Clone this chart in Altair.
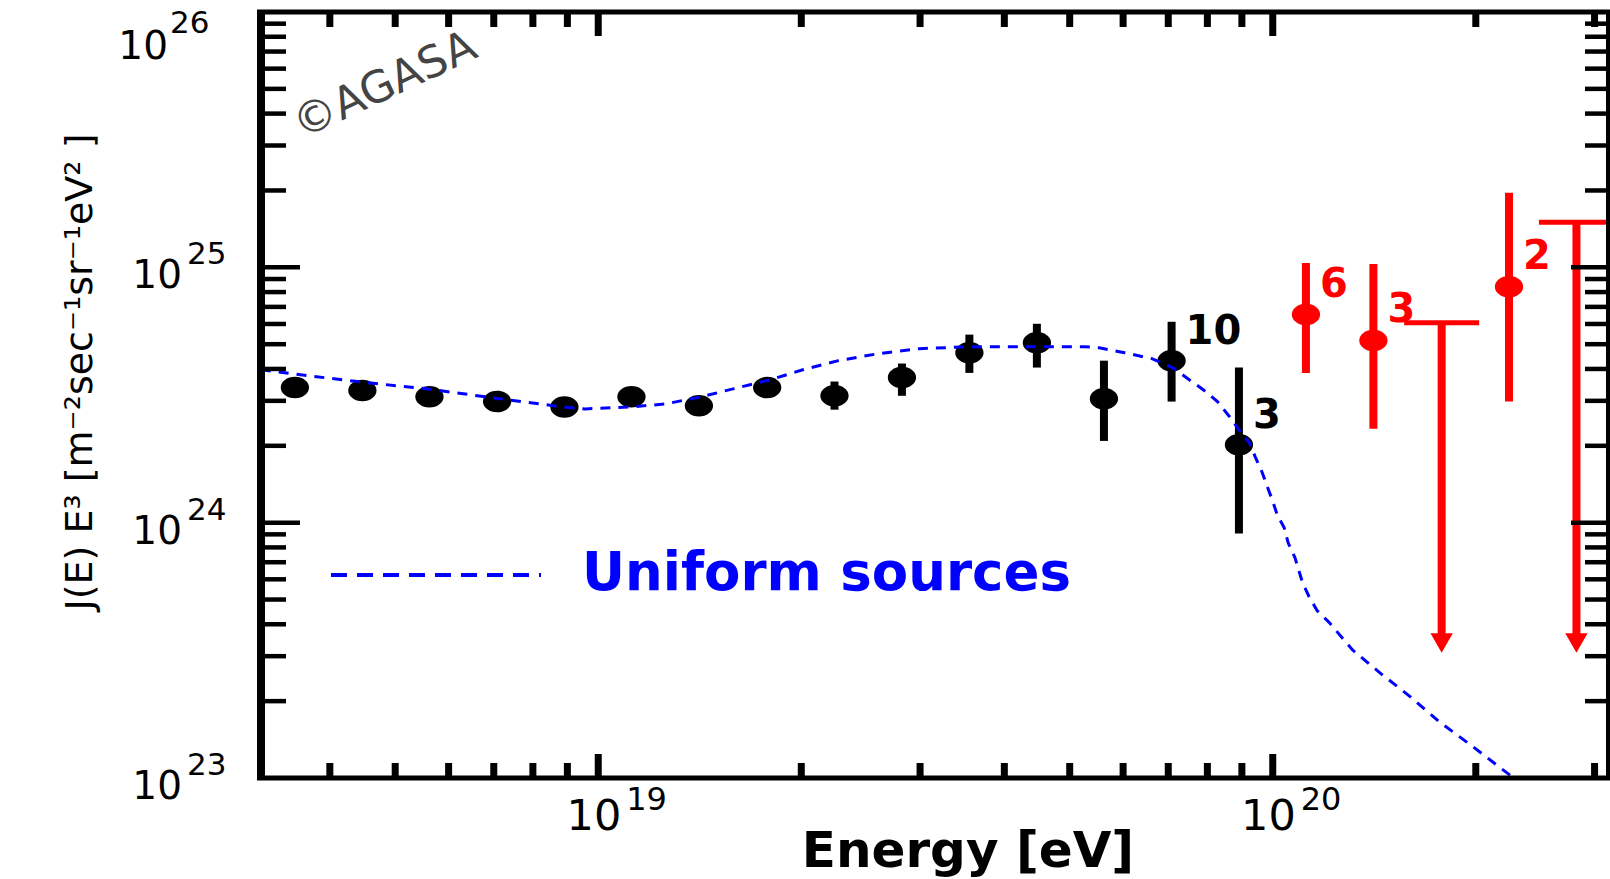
import altair as alt
import pandas as pd

# ---------------- data ----------------
black_E = [3.55e18, 4.47e18, 5.62e18, 7.08e18, 8.91e18, 1.12e19, 1.41e19, 1.78e19,
           2.24e19, 2.82e19, 3.55e19, 4.47e19, 5.62e19, 7.08e19, 8.91e19]
black_J = [3.38e24, 3.29e24, 3.11e24, 2.98e24, 2.84e24, 3.11e24, 2.87e24, 3.38e24,
           3.14e24, 3.70e24, 4.63e24, 5.07e24, 3.06e24, 4.31e24, 2.02e24]
black_lo = [3.28e24, 3.19e24, 3.01e24, 2.88e24, 2.74e24, 2.99e24, 2.74e24, 3.15e24,
            2.77e24, 3.14e24, 3.86e24, 4.05e24, 2.09e24, 2.98e24, 9.06e23]
black_hi = [3.48e24, 3.39e24, 3.21e24, 3.08e24, 2.94e24, 3.23e24, 3.00e24, 3.62e24,
            3.57e24, 4.20e24, 5.45e24, 6.01e24, 4.31e24, 6.12e24, 4.05e24]

red_E = [1.12e20, 1.41e20, 2.24e20]
red_J = [6.53e24, 5.17e24, 8.39e24]
red_lo = [3.86e24, 2.33e24, 2.98e24]
red_hi = [1.04e25, 1.03e25, 1.96e25]

limit_E = [1.78e20, 2.82e20]
limit_J = [6.07e24, 1.50e25]
limit_arrow_J = [3.38e23, 3.38e23]

count_black_E = [7.08e19, 8.91e19]
count_black_J = [4.31e24, 2.02e24]
count_black_txt = ["10", "3"]
count_red_E = [1.12e20, 1.41e20, 2.24e20]
count_red_J = [6.53e24, 5.17e24, 8.39e24]
count_red_txt = ["6", "3", "2"]

curve_E = [3.16e18, 3.82e18, 4.56e18, 5.53e18, 7.00e18, 8.85e18, 9.57e18, 1.12e19,
           1.26e19, 1.42e19, 1.59e19, 1.80e19, 2.01e19, 2.27e19, 2.60e19, 2.99e19,
           3.57e19, 4.50e19, 5.26e19, 5.53e19, 6.03e19, 6.62e19, 7.10e19, 7.52e19,
           7.96e19, 8.28e19, 8.63e19, 8.91e19, 9.23e19, 9.42e19, 9.64e19, 9.82e19,
           9.98e19, 1.016e20, 1.040e20, 1.054e20, 1.079e20, 1.107e20, 1.132e20,
           1.164e20, 1.213e20, 1.312e20, 1.442e20, 1.600e20, 1.766e20, 1.963e20,
           2.265e20]
curve_J = [3.97e24, 3.73e24, 3.53e24, 3.35e24, 3.08e24, 2.84e24, 2.79e24, 2.84e24,
           2.92e24, 3.11e24, 3.35e24, 3.63e24, 3.97e24, 4.31e24, 4.59e24, 4.80e24,
           4.89e24, 4.89e24, 4.89e24, 4.84e24, 4.63e24, 4.39e24, 4.05e24, 3.63e24,
           3.26e24, 2.98e24, 2.60e24, 2.31e24, 2.06e24, 1.81e24, 1.58e24, 1.38e24,
           1.23e24, 1.07e24, 9.55e23, 8.34e23, 7.28e23, 5.82e23, 5.13e23, 4.52e23,
           4.06e23, 3.18e23, 2.58e23, 2.08e23, 1.66e23, 1.35e23, 1.01e23]

x_major = [1e19, 1e20]
x_minor = [4e18, 5e18, 6e18, 7e18, 8e18, 9e18,
           2e19, 3e19, 4e19, 5e19, 6e19, 7e19, 8e19, 9e19,
           2e20, 3e20]
y_major = [1e24, 1e25]
y_minor = [m * d for d in (1e23, 1e24, 1e25) for m in range(2, 10)]

x_label_E = [1e19, 1e20]
x_label_base = ["10", "10"]
x_label_exp = ["19", "20"]
y_label_J = [1e23, 1e24, 1e25]
y_label_base = ["10", "10", "10"]
y_label_exp = ["23", "24", "25"]
y_top_label_J = [1e26]
y_top_label_exp = ["26"]

x_title = "Energy [eV]"
y_title = "J(E) E³ [m⁻²sec⁻¹sr⁻¹eV² ]"
legend_text = "Uniform sources"
copyright_text = "©AGASA"

# ---------------- styling ----------------
W, H = 1349, 766
FONT = "DejaVu Sans"
BLUE = "#0000ff"
RED = "#ff0000"
BLACK = "#000000"
ELLIPSE = "M-1,0A1,0.76,0,1,0,1,0A1,0.76,0,1,0,-1,0Z"

xscale = alt.Scale(type="log", domain=[3.1623e18, 3.1623e20])
yscale = alt.Scale(type="log", domain=[1e23, 1e26])


def X(f="E"):
    return alt.X(f"{f}:Q", scale=xscale, axis=None)


def Y(f="J"):
    return alt.Y(f"{f}:Q", scale=yscale, axis=None)


black_df = pd.DataFrame({"E": black_E, "J": black_J, "lo": black_lo, "hi": black_hi})
red_df = pd.DataFrame({"E": red_E, "J": red_J, "lo": red_lo, "hi": red_hi})
limit_df = pd.DataFrame({"E": limit_E, "J": limit_J, "arrow": limit_arrow_J})
curve_df = pd.DataFrame({"E": curve_E, "J": curve_J})
cb_df = pd.DataFrame({"E": count_black_E, "J": count_black_J, "t": count_black_txt})
cr_df = pd.DataFrame({"E": count_red_E, "J": count_red_J, "t": count_red_txt})
xmaj_df = pd.DataFrame({"E": x_major})
xmin_df = pd.DataFrame({"E": x_minor})
ymaj_df = pd.DataFrame({"J": y_major})
ymin_df = pd.DataFrame({"J": y_minor})
xlab_df = pd.DataFrame({"E": x_label_E, "b": x_label_base, "e": x_label_exp})
ylab_df = pd.DataFrame({"J": y_label_J, "b": y_label_base, "e": y_label_exp})
ytop_df = pd.DataFrame({"J": y_top_label_J, "b": ["10"], "e": y_top_label_exp})
one = pd.DataFrame({"k": [0]})

layers = []

# error bars and points
layers.append(alt.Chart(black_df).mark_rule(color=BLACK, strokeWidth=8).encode(
    x=X(), y=Y("lo"), y2=alt.Y2("hi:Q")))
layers.append(alt.Chart(black_df).mark_point(shape=ELLIPSE, filled=True, size=800,
                                             color=BLACK, opacity=1, strokeWidth=0).encode(x=X(), y=Y()))
layers.append(alt.Chart(red_df).mark_rule(color=RED, strokeWidth=8).encode(
    x=X(), y=Y("lo"), y2=alt.Y2("hi:Q")))
layers.append(alt.Chart(red_df).mark_point(shape=ELLIPSE, filled=True, size=800,
                                           color=RED, opacity=1, strokeWidth=0).encode(x=X(), y=Y()))
# upper limits
layers.append(alt.Chart(limit_df).mark_rule(color=RED, strokeWidth=8).encode(
    x=X(), y=Y("J"), y2=alt.Y2("arrow:Q")))
layers.append(alt.Chart(limit_df).mark_tick(color=RED, orient="horizontal", size=75,
                                            thickness=5, opacity=1).encode(x=X(), y=Y()))
layers.append(alt.Chart(limit_df).mark_point(shape="triangle-down", filled=True, size=500,
                                             color=RED, opacity=1, strokeWidth=0).encode(x=X(), y=Y("arrow")))
# model curve
layers.append(alt.Chart(curve_df).mark_line(color=BLUE, strokeWidth=3, strokeDash=[10, 8]).encode(
    x=X(), y=Y()))
# count labels
layers.append(alt.Chart(cb_df).mark_text(color=BLACK, font=FONT, fontSize=40, fontWeight="bold",
                                         align="left", baseline="middle", dx=14, dy=-29).encode(
    x=X(), y=Y(), text="t:N"))
layers.append(alt.Chart(cr_df).mark_text(color=RED, font=FONT, fontSize=40, fontWeight="bold",
                                         align="left", baseline="middle", dx=14, dy=-30).encode(
    x=X(), y=Y(), text="t:N"))

# ticks (inward)
for df, ln in ((xmin_df, 15), (xmaj_df, 24)):
    layers.append(alt.Chart(df).mark_rule(color=BLACK, strokeWidth=7).encode(
        x=X(), y=alt.value(H), y2=alt.value(H - ln)))
    layers.append(alt.Chart(df).mark_rule(color=BLACK, strokeWidth=7).encode(
        x=X(), y=alt.value(0), y2=alt.value(ln)))
for df, ln in ((ymin_df, 25), (ymaj_df, 39)):
    layers.append(alt.Chart(df).mark_rule(color=BLACK, strokeWidth=4.5).encode(
        y=Y(), x=alt.value(0), x2=alt.value(ln)))
    layers.append(alt.Chart(df).mark_rule(color=BLACK, strokeWidth=4.5).encode(
        y=Y(), x=alt.value(W), x2=alt.value(W - ln)))

# frame
layers.append(alt.Chart(one).mark_rule(color=BLACK, strokeWidth=8).encode(
    x=alt.value(0), y=alt.value(-2), y2=alt.value(H + 2)))
layers.append(alt.Chart(one).mark_rule(color=BLACK, strokeWidth=8).encode(
    x=alt.value(W), y=alt.value(-2), y2=alt.value(H + 2)))
layers.append(alt.Chart(one).mark_rule(color=BLACK, strokeWidth=5).encode(
    y=alt.value(H), x=alt.value(-4), x2=alt.value(W)))
layers.append(alt.Chart(one).mark_rule(color=BLACK, strokeWidth=5).encode(
    y=alt.value(0), x=alt.value(-4), x2=alt.value(W)))

# tick labels
layers.append(alt.Chart(xlab_df).mark_text(font=FONT, fontSize=43, color=BLACK, align="right",
                                           baseline="alphabetic", dx=23).encode(
    x=X(), y=alt.value(H + 52), text="b:N"))
layers.append(alt.Chart(xlab_df).mark_text(font=FONT, fontSize=32, color=BLACK, align="left",
                                           baseline="alphabetic", dx=28).encode(
    x=X(), y=alt.value(H + 32), text="e:N"))
layers.append(alt.Chart(ylab_df).mark_text(font=FONT, fontSize=39, color=BLACK, align="right",
                                           baseline="alphabetic", dy=21).encode(
    x=alt.value(-79), y=Y(), text="b:N"))
layers.append(alt.Chart(ylab_df).mark_text(font=FONT, fontSize=31, color=BLACK, align="left",
                                           baseline="alphabetic", dy=-3).encode(
    x=alt.value(-74), y=Y(), text="e:N"))
layers.append(alt.Chart(ytop_df).mark_text(font=FONT, fontSize=39, color=BLACK, align="right",
                                           baseline="alphabetic", dy=47).encode(
    x=alt.value(-93), y=Y(), text="b:N"))
layers.append(alt.Chart(ytop_df).mark_text(font=FONT, fontSize=31, color=BLACK, align="left",
                                           baseline="alphabetic", dy=21).encode(
    x=alt.value(-91), y=Y(), text="e:N"))

# titles, legend, copyright
layers.append(alt.Chart(one).mark_text(text=x_title, font=FONT, fontSize=50, fontWeight="bold",
                                       color=BLACK, align="center", baseline="alphabetic").encode(
    x=alt.value(707), y=alt.value(855)))
layers.append(alt.Chart(one).mark_text(text=y_title, font=FONT, fontSize=38, color=BLACK,
                                       align="center", baseline="alphabetic", angle=270).encode(
    x=alt.value(-169), y=alt.value(360)))
layers.append(alt.Chart(one).mark_rule(color=BLUE, strokeWidth=4, strokeDash=[16, 10]).encode(
    x=alt.value(70), x2=alt.value(280), y=alt.value(563)))
layers.append(alt.Chart(one).mark_text(text=legend_text, font=FONT, fontSize=53, fontWeight="bold",
                                       color=BLUE, align="left", baseline="alphabetic").encode(
    x=alt.value(321), y=alt.value(578)))
layers.append(alt.Chart(one).mark_text(text=copyright_text, font=FONT, fontSize=44, color="#444444",
                                       align="center", baseline="middle", angle=335).encode(
    x=alt.value(124), y=alt.value(74)))

chart = alt.layer(*layers).properties(
    width=W, height=H,
    autosize=alt.AutoSizeParams(type="none"),
    padding={"left": 261, "top": 12, "right": 0, "bottom": 101},
    background="white",
).configure_view(stroke=None)

chart.save("out.html", embed_options={"renderer": "svg", "actions": False})
